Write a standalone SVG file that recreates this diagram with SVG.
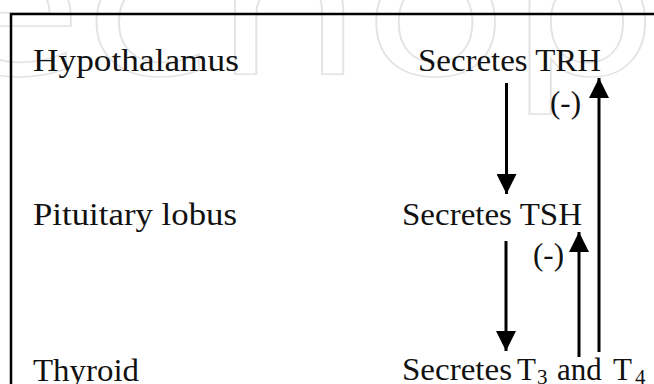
<svg xmlns="http://www.w3.org/2000/svg" width="654" height="384" viewBox="0 0 654 384">
<defs>
<style>
.t{font-family:"Liberation Serif","Times New Roman",serif;font-size:31px;fill:#111}
.wm{font-family:"DejaVu Sans",sans-serif;font-size:190px;fill:none;stroke:#e3e3e3;stroke-width:1.5}
.ln{stroke:#000;stroke-width:3;fill:none}
.sub{font-size:21px}
</style>
<marker id="ah" viewBox="0 0 20 20" refX="20" refY="10" markerWidth="20" markerHeight="20" markerUnits="userSpaceOnUse" orient="auto">
<path d="M0,0 L20,10 L0,20 Z" fill="#000"/>
</marker>
</defs>
<rect width="654" height="384" fill="#fff"/>
<text class="wm" x="-62" y="74" textLength="720" lengthAdjust="spacingAndGlyphs">echop</text>
<path d="M11,384 V14 H654" stroke="#000" stroke-width="2.5" fill="none"/>
<g id="hypothalamus"><text class="t" x="33" y="71" textLength="206" lengthAdjust="spacingAndGlyphs">Hypothalamus</text></g>
<g id="trh"><text class="t" x="418" y="71" textLength="183" lengthAdjust="spacingAndGlyphs">Secretes TRH</text></g>
<g id="pituitary"><text class="t" x="33" y="225" textLength="204" lengthAdjust="spacingAndGlyphs">Pituitary lobus</text></g>
<g id="tsh"><text class="t" x="402" y="225" textLength="180" lengthAdjust="spacingAndGlyphs">Secretes TSH</text></g>
<g id="thyroid"><text class="t" x="33" y="381" textLength="106" lengthAdjust="spacingAndGlyphs">Thyroid</text></g>
<g id="t3t4"><text class="t" x="402" y="380"><tspan textLength="110" lengthAdjust="spacingAndGlyphs">Secretes</tspan><tspan x="517">T</tspan><tspan class="sub" x="537" dy="4">3</tspan><tspan x="557" dy="-4">and</tspan><tspan x="613">T</tspan><tspan class="sub" x="635" dy="4">4</tspan></text></g>
<g id="connectors">
<line class="ln" x1="506.5" y1="83" x2="506.5" y2="194" marker-end="url(#ah)"/>
<line class="ln" x1="599" y1="352" x2="599" y2="78" marker-end="url(#ah)"/>
<line class="ln" x1="506" y1="241" x2="506" y2="351" marker-end="url(#ah)"/>
<line class="ln" x1="579" y1="357" x2="579" y2="232" marker-end="url(#ah)"/>
<text class="t" x="550" y="113">(-)</text>
<text class="t" x="533" y="265">(-)</text>
</g>
</svg>
